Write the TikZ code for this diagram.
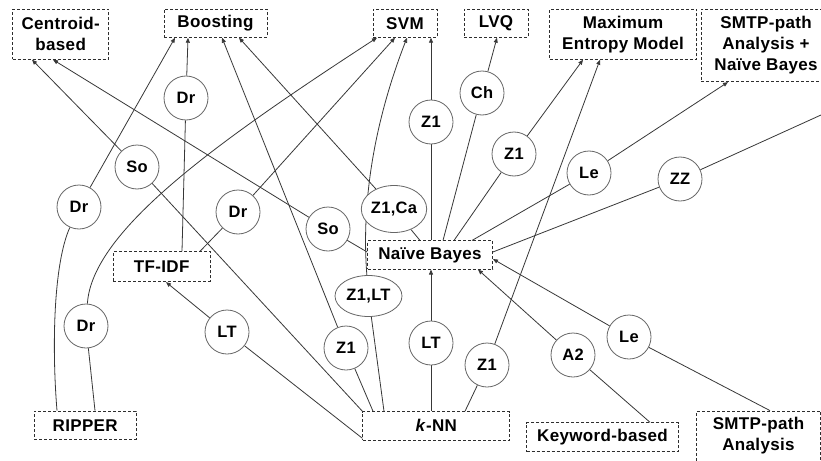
\documentclass[tikz,border=0pt]{standalone}
\usepackage{fontspec}
\setmainfont{Liberation Sans}[LetterSpace=2]
\usetikzlibrary{arrows.meta,shapes.geometric,calc}
\definecolor{edgegray}{HTML}{383838}
\definecolor{ringgray}{HTML}{666666}
\definecolor{dashgray}{HTML}{2E2E2E}
\pgfdeclarelayer{bg}
\pgfsetlayers{bg,main}
\begin{document}
\begin{tikzpicture}[x=1pt,y=-1pt,
  box/.style={draw=dashgray, dash pattern=on 3pt off 2pt, line width=0.8pt,
    fill=white, align=center, inner sep=0pt,
    font=\fontsize{17}{21}\selectfont\bfseries},
  ring/.style={circle, draw=ringgray, line width=0.8pt, fill=white,
    minimum size=44pt, inner sep=0pt, font=\fontsize{16.5}{18}\selectfont\bfseries},
  oval/.style={ellipse, draw=ringgray, line width=0.8pt, fill=white,
    minimum width=66pt, minimum height=46pt, inner sep=0pt,
    font=\fontsize{16.5}{18}\selectfont\bfseries},
  link/.style={draw=edgegray, line width=0.8pt},
  arr/.style={link, -{Triangle[length=5pt,width=4pt]}}]

\useasboundingbox (0,0) rectangle (821,460);
\clip (0,0) rectangle (821,460);

% methods (dashed boxes)
\node[box, minimum width=96pt, minimum height=50pt] (centroid) at (60.7,34.3) {Centroid-\\based};
\node[box, minimum width=103pt, minimum height=28pt] (boost) at (215.5,23.3) {Boosting};
\node[box, minimum width=64pt, minimum height=28pt] (svm) at (405,23.3) {SVM};
\node[box, minimum width=64pt, minimum height=28pt] (lvq) at (496,23.3) {LVQ};
\node[box, minimum width=147pt, minimum height=50pt] (maxent) at (623,34.3) {Maximum\\Entropy Model};
\node[box, minimum width=130pt, minimum height=72.4pt] (smtpnb) at (766,45.5) {SMTP-path\\Analysis +\\Naïve Bayes};
\node[box, minimum width=96.7pt, minimum height=30pt] (tfidf) at (161.7,266.7) {TF-IDF};
\node[box, minimum width=125pt, minimum height=28.3pt] (nb) at (430,255) {Naïve Bayes};
\node[box, minimum width=101.7pt, minimum height=28.3pt] (ripper) at (85.2,425.2) {RIPPER};
\node[box, minimum width=147pt, minimum height=28.3pt] (knn) at (436.3,425.8) {\textit{k}-NN};
\node[box, minimum width=151.7pt, minimum height=29pt] (keyword) at (602.5,437.2) {Keyword-based};
\node[box, minimum width=124pt, minimum height=50pt] (smtp) at (758.5,436) {SMTP-path\\Analysis};

% comparison studies (circles)
\node[ring] (drT) at (186,98) {Dr};
\node[ring] (soL) at (137,167) {So};
\node[ring] (drL) at (79,207) {Dr};
\node[ring] (drM) at (238,212) {Dr};
\node[ring] (drB) at (86,326) {Dr};
\node[ring] (ltL) at (227,332) {LT};
\node[ring] (z1S) at (431,122) {Z1};
\node[ring] (ch) at (482,93) {Ch};
\node[ring] (z1R) at (514,154) {Z1};
\node[ring] (leU) at (589,173) {Le};
\node[ring] (zz) at (680,179) {ZZ};
\node[oval, minimum width=64pt, minimum height=47pt] (z1ca) at (394,209) {Z1,Ca};
\node[ring] (soM) at (328,229) {So};
\node[oval, minimum width=67pt, minimum height=41pt] (z1lt) at (368.5,296) {Z1,LT};
\node[ring] (z1K) at (346,348) {Z1};
\node[ring] (ltC) at (431,343) {LT};
\node[ring] (z1E) at (487,365) {Z1};
\node[ring] (a2) at (573,355) {A2};
\node[ring] (leL) at (629,337) {Le};
\coordinate (zzend) at (821,115);

\begin{pgfonlayer}{bg}
\fill[white] (0,0) rectangle (821,460);
% into Centroid-based
\draw[arr] (soL) -- ($(centroid.south)+(-28.7,0)$);
\draw[arr] (soM) -- ($(centroid.south)+(-7.7,0)$);
% into Boosting
\draw[arr] (drL) -- ($(boost.south)+(-40.5,0)$);
\draw[arr] (drT) -- ($(boost.south)+(-27.5,0)$);
\draw[arr] (z1K) -- ($(boost.south)+(6.5,0)$);
\draw[arr] (z1ca) -- ($(boost.south)+(23.5,0)$);
% into SVM
\draw[arr] (drB) .. controls (92,230) and (220,140) .. ($(svm.south)+(-28,0)$);
\draw[arr] (drM) -- ($(svm.south)+(-10,0)$);
\draw[arr] (z1lt) .. controls (361,200) and (375,120) .. ($(svm.south)+(2,0)$);
\draw[arr] (z1S) -- ($(svm.south)+(26,0)$);
% into LVQ, Maximum Entropy Model, SMTP-path + NB
\draw[arr] (ch) -- ($(lvq.south)+(1,0)$);
\draw[arr] (z1R) -- ($(maxent.south)+(-40,0)$);
\draw[arr] (z1E) -- ($(maxent.south)+(-23,0)$);
\draw[arr] (leU) -- ($(smtpnb.south)+(-38,0)$);
\draw[link] (zz) -- (zzend);
% into TF-IDF and Naive Bayes
\draw[arr] (ltL) -- ($(tfidf.south)+(4.3,0)$);
\draw[arr] (ltC) -- ($(nb.south)+(1,0)$);
\draw[arr] (a2) -- ($(nb.south)+(48,0)$);
\draw[arr] (leL) -- ($(nb.east)+(0,4)$);
% from TF-IDF
\draw[link] ($(tfidf.north)+(20.3,0)$) -- (drT);
\draw[link] ($(tfidf.north)+(38.3,0)$) -- (drM);
% from RIPPER
\draw[link] ($(ripper.north)+(-28.2,0)$) .. controls (52,350) and (53,265) .. (drL);
\draw[link] ($(ripper.north)+(9.8,0)$) -- (drB);
% from k-NN
\draw[link] (knn.north west) -- (soL);
\draw[link] ($(knn.west)+(0,12.5)$) -- (ltL);
\draw[link] ($(knn.north)+(-63.3,0)$) -- (z1K);
\draw[link] ($(knn.north)+(-52.3,0)$) -- (z1lt);
\draw[link] ($(knn.north)+(-5.3,0)$) -- (ltC);
\draw[link] ($(knn.north)+(28.7,0)$) -- (z1E);
% from Naive Bayes
\draw[link] ($(nb.north)+(-10,0)$) -- (z1ca);
\draw[link] ($(nb.north)+(1,0)$) -- (z1S);
\draw[link] ($(nb.north)+(13,0)$) -- (ch);
\draw[link] ($(nb.north)+(24,0)$) -- (z1R);
\draw[link] ($(nb.north)+(42,0)$) -- (leU);
\draw[link] ($(nb.east)+(0,-3)$) -- (zz);
\draw[link] ($(nb.west)+(0,-3)$) -- (soM);
% from Keyword-based and SMTP-path Analysis
\draw[link] ($(keyword.north)+(47.5,0)$) -- (a2);
\draw[link] ($(smtp.north)+(11.5,0)$) -- (leL);
\end{pgfonlayer}
\end{tikzpicture}
\end{document}
